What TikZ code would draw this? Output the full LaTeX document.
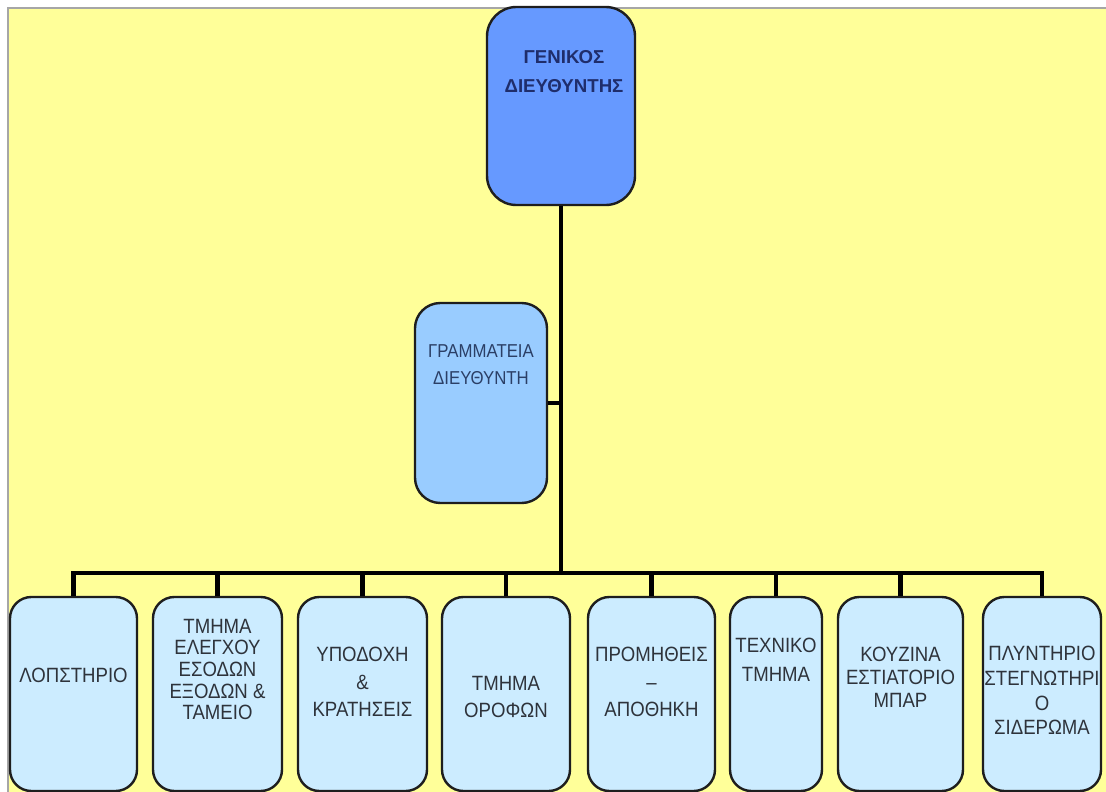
\documentclass[tikz,border=0pt]{standalone}
\usepackage{fontspec}
\setmainfont{Liberation Sans}
\newfontfamily\tallsans[FakeStretch=0.9]{Liberation Sans}
\usepackage{tikz}
\definecolor{paper}{HTML}{FFFF99}
\definecolor{chief}{HTML}{6699FF}
\definecolor{office}{HTML}{99CCFF}
\definecolor{dept}{HTML}{CCECFF}
\definecolor{chiefink}{HTML}{1F2D6B}
\definecolor{officeink}{HTML}{2B3F66}
\definecolor{deptink}{HTML}{2E333B}
\definecolor{edge}{HTML}{1E1E1E}

\begin{document}
\begin{tikzpicture}[x=0.75pt,y=-0.75pt,
  conn/.style={line width=3.4pt,black},
  chiefbox/.style={draw=edge,line width=1.8pt,fill=chief,rounded corners=22pt,
    minimum width=111pt,minimum height=148.5pt,inner sep=0pt},
  officebox/.style={draw=edge,line width=1.8pt,fill=office,rounded corners=19pt,
    minimum width=99pt,minimum height=150pt,inner sep=0pt},
  deptbox/.style={draw=edge,line width=1.8pt,fill=dept,rounded corners=16pt,
    minimum width=#1*0.75pt,minimum height=145.5pt,inner sep=0pt},
  depttxt/.style={font=\tallsans\fontsize{15.5}{#1}\selectfont,text=deptink,align=center,inner sep=0pt}]
  \useasboundingbox (0,0) rectangle (1106,792);
  % sheet
  \fill[white] (0,0) rectangle (1106,792);
  \fill[paper] (8,8) rectangle (1106,792);
  \draw[gray!70,line width=1pt] (8,792) -- (8,8) -- (1106,8);

  % head and secretariat
  \node[chiefbox] (gd) at (561,106) {};
  \node[officebox] (gr) at (481,403) {};
  \node[font=\fontsize{14}{21.8}\selectfont\bfseries,text=chiefink,align=center,inner sep=0pt]
    (gd-txt) at (564,71.5) {ΓΕΝΙΚΟΣ\\ΔΙΕΥΘΥΝΤΗΣ};
  \node[font=\tallsans\fontsize{14}{20}\selectfont,text=officeink,align=center,inner sep=0pt]
    (gr-txt) at (481,364.5) {ΓΡΑΜΜΑΤΕΙΑ\\ΔΙΕΥΘΥΝΤΗ};

  % departments
  \foreach \n/\x/\w in {lop/73.5/127,eleg/217.5/129,ypod/362.5/129,orof/506/128,
                        prom/651.5/127,tech/776/92,kouz/900.5/125,plyn/1042/118}
     {\node[deptbox=\w] (\n) at (\x,694) {};}
  \node[depttxt=16] (lop-txt) at (73.5,675) {ΛΟΠΣΤΗΡΙΟ};
  \node[depttxt=16.3] (eleg-txt) at (217.5,669.5) {ΤΜΗΜΑ\\ΕΛΕΓΧΟΥ\\ΕΣΟΔΩΝ\\ΕΞΟΔΩΝ \&\\ΤΑΜΕΙΟ};
  \node[depttxt=20.6] (ypod-txt) at (362.5,682) {ΥΠΟΔΟΧΗ\\\&\\ΚΡΑΤΗΣΕΙΣ};
  \node[depttxt=20.3] (orof-txt) at (506,697) {ΤΜΗΜΑ\\ΟΡΟΦΩΝ};
  \node[depttxt=20.6] (prom-txt) at (651.5,682) {ΠΡΟΜΗΘΕΙΣ\\–\\ΑΠΟΘΗΚΗ};
  \node[depttxt=21.8] (tech-txt) at (776,660) {ΤΕΧΝΙΚΟ\\ΤΜΗΜΑ};
  \node[depttxt=17.3] (kouz-txt) at (900.5,677.5) {ΚΟΥΖΙΝΑ\\ΕΣΤΙΑΤΟΡΙΟ\\ΜΠΑΡ};
  \node[depttxt=18.5] (plyn-txt) at (1042,690.5) {ΠΛΥΝΤΗΡΙΟ\\ΣΤΕΓΝΩΤΗΡΙ\\Ο\\ΣΙΔΕΡΩΜΑ};

  % connectors
  \coordinate (bus) at (560,573);
  \draw[conn] (gd.south) -- (gd.south |- bus);
  \draw[conn] (gr.east) -- (gr.east -| gd.south);
  \draw[conn] (lop.north) |- (bus) -| (plyn.north);
  \foreach \n in {eleg,ypod,orof,prom,tech,kouz}
     {\draw[conn] (\n.north) -- (\n.north |- bus);}
\end{tikzpicture}
\end{document}
